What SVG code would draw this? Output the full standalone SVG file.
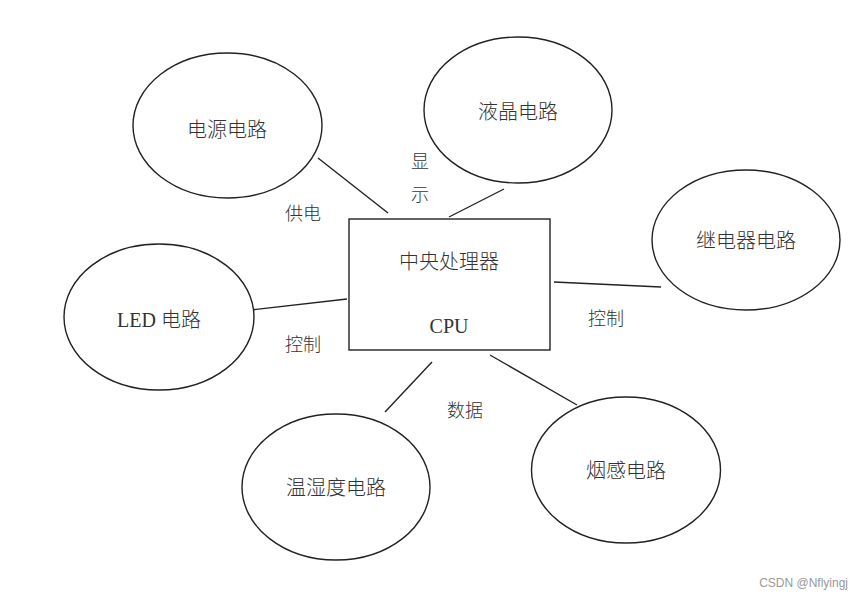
<svg xmlns="http://www.w3.org/2000/svg" width="863" height="600" viewBox="0 0 863 600">
<style>
.n{fill:#fff;stroke:#222;stroke-width:1.4}
.t{font-family:"Liberation Serif","Noto Sans CJK SC",serif;font-size:20px;font-weight:300;fill:#333;text-anchor:middle;dominant-baseline:central}
.l{font-family:"Liberation Serif","Noto Sans CJK SC",serif;font-size:18px;font-weight:300;fill:#333;text-anchor:middle;dominant-baseline:central}
.c{stroke:#222;stroke-width:1.4;fill:none}
</style>
<rect width="863" height="600" fill="#fff"/>
<g id="connectors">
<line class="c" x1="318" y1="158" x2="388" y2="213"/>
<line class="c" x1="504" y1="189" x2="449" y2="217"/>
<line class="c" x1="554" y1="282" x2="661" y2="287"/>
<line class="c" x1="251" y1="310" x2="347" y2="299"/>
<line class="c" x1="385" y1="412" x2="432" y2="362"/>
<line class="c" x1="490" y1="355" x2="577" y2="405"/>
</g>
<g id="cpu"><rect class="n" x="349" y="219" width="201" height="131"/>
<text class="t" x="449" y="262">中央处理器</text><text class="t" x="449" y="326">CPU</text></g>
<g id="power"><ellipse class="n" cx="227.5" cy="125.5" rx="94.5" ry="72.5"/><text class="t" x="227" y="130">电源电路</text></g>
<g id="lcd"><ellipse class="n" cx="518" cy="110" rx="94" ry="73"/><text class="t" x="518" y="112">液晶电路</text></g>
<g id="relay"><ellipse class="n" cx="746" cy="240" rx="94" ry="70"/><text class="t" x="746" y="241">继电器电路</text></g>
<g id="led"><ellipse class="n" cx="159" cy="317" rx="95" ry="73"/><text class="t" x="159" y="320">LED 电路</text></g>
<g id="temp"><ellipse class="n" cx="336" cy="487" rx="94" ry="73"/><text class="t" x="336" y="488">温湿度电路</text></g>
<g id="smoke"><ellipse class="n" cx="626" cy="470" rx="94.5" ry="73"/><text class="t" x="626" y="471">烟感电路</text></g>
<g id="labels">
<text class="l" x="303" y="214">供电</text>
<text class="l" x="420" y="162">显</text>
<text class="l" x="420" y="195">示</text>
<text class="l" x="303" y="345">控制</text>
<text class="l" x="606" y="319">控制</text>
<text class="l" x="465" y="411">数据</text>
</g>
<text x="848" y="583" font-family="Liberation Sans,Arial,sans-serif" font-size="12" fill="#999" text-anchor="end" dominant-baseline="central">CSDN @Nflyingj</text>
</svg>
